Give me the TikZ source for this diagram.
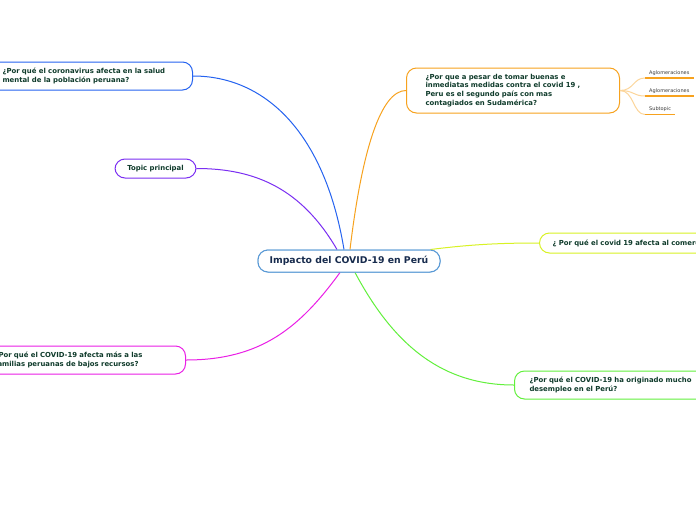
\documentclass[tikz,border=0pt]{standalone}
\usepackage{fontspec}
\newfontfamily\df{DejaVu Sans}
\definecolor{txt}{HTML}{0F3B2B}
\definecolor{ctxt}{HTML}{172B4D}
\definecolor{cblue}{HTML}{5A9AD6}
\definecolor{lblue}{HTML}{2563F0}
\definecolor{lpurple}{HTML}{7B2FF2}
\definecolor{lmag}{HTML}{EA1EE6}
\definecolor{lorange}{HTML}{F7A21E}
\definecolor{lyellow}{HTML}{D8F224}
\definecolor{lgreen}{HTML}{62F03C}
\definecolor{lorlight}{HTML}{FCD59A}
\definecolor{subtxt}{HTML}{3C3C3C}
\tikzset{
  topic/.style={draw, line width=1pt, rounded corners=10pt, fill=white, text=txt,
    font=\df\bfseries\fontsize{6.9}{8.8}\selectfont, align=left, inner ysep=2pt},
  central/.style={draw=cblue, line width=1pt, rounded corners=10pt, fill=white, text=ctxt,
    font=\df\bfseries\fontsize{9.3}{10}\selectfont, minimum width=182pt, minimum height=22pt, inner sep=0pt},
  conn/.style={line width=1pt},
  subtopic/.style={text=subtxt, font=\df\fontsize{5}{6}\selectfont, inner xsep=4pt, inner ysep=2.5pt, anchor=south west},
  subline/.style={draw=lorange, line width=1.5pt},
  subconn/.style={draw=lorlight, line width=1pt}
}
\begin{document}
\begin{tikzpicture}[x=1pt,y=-1pt]
\useasboundingbox (0,0) rectangle (696,520);
\clip (0,0) rectangle (696,520);
\fill[white] (0,0) rectangle (696,520);

% central
\node[central] (c) at (349,261) {Impacto del COVID-19 en Perú};

% topics
\node[topic, draw=lblue, text width=175pt, inner xsep=15pt, minimum height=28pt, anchor=east] (t1) at (193,76)
  {¿Por qué el coronavirus afecta en la salud\\mental de la población peruana?};
\node[topic, draw=lpurple, align=center, minimum width=81pt, minimum height=19pt, inner xsep=0pt] (t2) at (155.5,168.5)
  {Topic principal};
\node[topic, draw=lmag, text width=176pt, inner xsep=15pt, minimum height=28pt, anchor=east] (t3) at (186,360)
  {¿Por qué el COVID-19 afecta más a las\\familias peruanas de bajos recursos?};
\node[topic, draw=lorange, text width=175pt, inner xsep=19pt, minimum height=45pt, anchor=west] (t4) at (406,90.5)
  {¿Por que a pesar de tomar buenas e\\inmediatas medidas contra el covid 19 ,\\Peru es el segundo país con mas\\contagiados en Sudamérica?};
\node[topic, draw=lyellow, text width=200pt, inner xsep=13pt, minimum height=20pt, anchor=west] (t5) at (539,243)
  {¿ Por qué el covid 19 afecta al comercio?};
\node[topic, draw=lgreen, text width=200pt, inner xsep=15pt, minimum height=28pt, anchor=west] (t6) at (514,385)
  {¿Por qué el COVID-19 ha originado mucho\\desempleo en el Perú?};

% subtopics
\node[subtopic] (s1) at (645,78) {Aglomeraciones};
\node[subtopic] (s2) at (645,96) {Aglomeraciones};
\node[subtopic] (s3) at (645,114.5) {Subtopic};
\draw[subline] (s1.south west) -- (s1.south east);
\draw[subline] (s2.south west) -- (s2.south east);
\draw[subline] (s3.south west) -- (s3.south east);
\draw[subconn] (t4.east) .. controls +(14,0) and +(-12,0) .. (s1.south west);
\draw[subconn] (t4.east) .. controls +(14,0) and +(-12,0) .. (s2.south west);
\draw[subconn] (t4.east) .. controls +(14,0) and +(-12,0) .. (s3.south west);

% connectors
\draw[conn, lblue] ([xshift=-5pt]c.north) .. controls +(-20,-120) and +(70,0) .. (t1.east);
\draw[conn, lpurple] ([xshift=-12pt]c.north) .. controls +(-35,-60) and +(60,0) .. (t2.east);
\draw[conn, lorange] ([xshift=1pt]c.north) .. controls +(12,-100) and +(-25,0) .. (t4.west);
\draw[conn, lyellow] ([xshift=-10pt]c.north east) .. controls +(40,-5) and +(-40,0) .. (t5.west);
\draw[conn, lmag] ([xshift=-9pt]c.south) .. controls +(-40,55) and +(75,0) .. (t3.east);
\draw[conn, lgreen] ([xshift=6pt]c.south) .. controls +(40,75) and +(-70,0) .. (t6.west);

% redraw central on top of connector ends
\node[central] at (c) {Impacto del COVID-19 en Perú};
\end{tikzpicture}
\end{document}
